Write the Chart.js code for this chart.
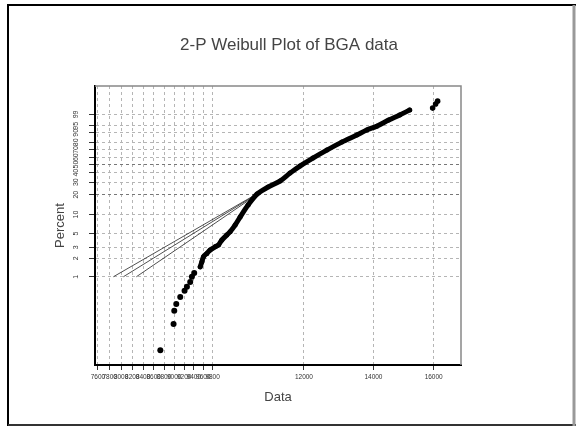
<!DOCTYPE html>
<html>
<head>
<meta charset="utf-8">
<script src="https://cdn.jsdelivr.net/npm/chart.js@4.4.1/dist/chart.umd.min.js"></script>
<style>
html, body { margin: 0; padding: 0; background: #fff; }
#wrap { width: 578px; height: 428px; }
</style>
</head>
<body>
<div id="wrap"><canvas id="chart" width="578" height="428"></canvas></div>
<script>
// axis ticks
var xTicks = [7600, 7800, 8000, 8200, 8400, 8600, 8800, 9000, 9200, 9400, 9600, 9800, 12000, 14000, 16000];
var yTicks = [1, 2, 3, 5, 10, 20, 30, 40, 50, 60, 70, 80, 90, 95, 99];

// lower tail, single points
var tailX   = [8727, 8987, 9001, 9041, 9121, 9209, 9257, 9325, 9360, 9408];
var tailPct = [0.063, 0.169, 0.278, 0.359, 0.467, 0.593, 0.689, 0.823, 1.0, 1.15];

// dense part of the data (points overlap into a band)
var bulkX   = [9534, 9570, 9604, 9676, 9746, 9856, 9928, 10002, 10114, 10188, 10301, 10416, 10602, 10814,
               11082, 11380, 11634, 11894, 12241, 12626, 13052, 13492, 13795, 14103, 14483, 14839, 15171];
var bulkPct = [1.45, 1.75, 2.12, 2.40, 2.72, 3.07, 3.27, 3.94, 4.74, 5.35, 6.83, 9.12, 13.97, 20.38,
               25.67, 31.06, 39.5, 48.1, 58.8, 69.8, 80.2, 87.9, 92.2, 94.8, 97.6, 98.9, 99.56];

// last few failures, off on their own
var topX   = [15964, 16070, 16141];
var topPct = [99.71, 99.89, 99.95];

// fitted line and its two bounds
var fitPct    = [1, 24];
var fitUpperX = [7864, 11008];
var fitMidX   = [8040, 11008];
var fitLowerX = [8275, 11008];

var FONT = '"Liberation Sans", Arial, sans-serif';

// weibull probability scale
function wb(p) { return Math.log(-Math.log(1 - p / 100)); }
function pts(xs, ps) {
  return xs.map(function(x, i) { return {x: x, y: wb(ps[i])}; });
}

var frame = {
  id: 'frame',
  beforeDraw: function(chart) {
    var c = chart.ctx;
    c.save();
    c.fillStyle = '#fff';
    c.fillRect(0, 0, chart.width, chart.height);
    c.strokeStyle = '#000';
    c.lineWidth = 2;
    c.beginPath();
    c.moveTo(8, 426); c.lineTo(8, 5); c.lineTo(576, 5);
    c.stroke();
    c.strokeStyle = '#333';
    c.beginPath();
    c.moveTo(8, 425); c.lineTo(576, 425);
    c.stroke();
    c.strokeStyle = '#999';
    c.lineWidth = 3;
    c.beginPath();
    c.moveTo(574, 5); c.lineTo(574, 426);
    c.stroke();
    c.restore();
  },
  afterDraw: function(chart) {
    var c = chart.ctx, a = chart.chartArea;
    c.save();
    c.strokeStyle = '#888';
    c.lineWidth = 1.5;
    c.beginPath();
    c.moveTo(a.left, a.top); c.lineTo(a.right, a.top); c.lineTo(a.right, a.bottom);
    c.stroke();
    c.fillStyle = '#444';
    c.font = '17px ' + FONT;
    c.textAlign = 'center';
    c.textBaseline = 'middle';
    c.fillText('2-P Weibull Plot of BGA data', 289, 45);
    c.restore();
  }
};

function fitSet(xs) {
  return {
    data: pts(xs, fitPct), showLine: true, borderColor: '#222', borderWidth: 0.8,
    pointRadius: 0, order: 2
  };
}

new Chart('chart', {
  type: 'scatter',
  data: {
    datasets: [
      { data: pts(bulkX, bulkPct), showLine: true, borderColor: '#000', backgroundColor: '#000',
        borderWidth: 5, borderJoinStyle: 'round', borderCapStyle: 'round', tension: 0.3,
        pointRadius: 2.5, pointBorderWidth: 0, order: 0 },
      { data: pts(tailX, tailPct), backgroundColor: '#000', borderColor: '#000',
        pointRadius: 3, pointBorderWidth: 0, order: 0 },
      { data: pts(topX, topPct), backgroundColor: '#000', borderColor: '#000',
        pointRadius: 2.8, pointBorderWidth: 0, order: 0 },
      fitSet(fitUpperX),
      fitSet(fitMidX),
      fitSet(fitLowerX)
    ]
  },
  options: {
    responsive: false,
    animation: false,
    layout: { padding: { left: 40, right: 117, top: 86, bottom: 18 } },
    plugins: { legend: { display: false }, tooltip: { enabled: false }, title: { display: false } },
    scales: {
      x: {
        type: 'logarithmic', min: 7550, max: 17000,
        afterBuildTicks: function(s) { s.ticks = xTicks.map(function(v) { return {value: v}; }); },
        afterFit: function(s) { s.height = 45; },
        ticks: {
          autoSkip: false, minRotation: 0, maxRotation: 0, padding: 3, color: '#333',
          font: { family: FONT, size: 6.5 },
          callback: function(v, i) { return String(xTicks[i]); }
        },
        grid: { color: '#b5b5b5', lineWidth: 1, tickLength: 5, tickColor: '#333' },
        border: { color: '#000', width: 2, dash: [3, 3] },
        title: { display: true, text: 'Data', color: '#444', font: { family: FONT, size: 13 },
                 padding: { top: 0, bottom: 5 } }
      },
      y: {
        type: 'linear', min: -7.93, max: 2.6,
        afterBuildTicks: function(s) { s.ticks = yTicks.map(function(p) { return {value: wb(p)}; }); },
        afterFit: function(s) { s.width = 55; },
        ticks: {
          minRotation: 90, maxRotation: 90, crossAlign: 'center', padding: 9, color: '#333',
          font: { family: FONT, size: 7 },
          callback: function(v, i) { return String(yTicks[i]); }
        },
        grid: {
          lineWidth: 1, tickLength: 6, tickColor: '#333',
          color: function(ctx) {
            var p = yTicks[ctx.index];
            return (p === 20 || p === 50) ? '#777' : '#b5b5b5';
          }
        },
        border: { color: '#000', width: 2, dash: [3, 3] },
        title: { display: true, text: 'Percent', color: '#444', font: { family: FONT, size: 13 },
                 padding: { top: 13, bottom: 0 } }
      }
    }
  },
  plugins: [frame]
});
</script>
</body>
</html>
